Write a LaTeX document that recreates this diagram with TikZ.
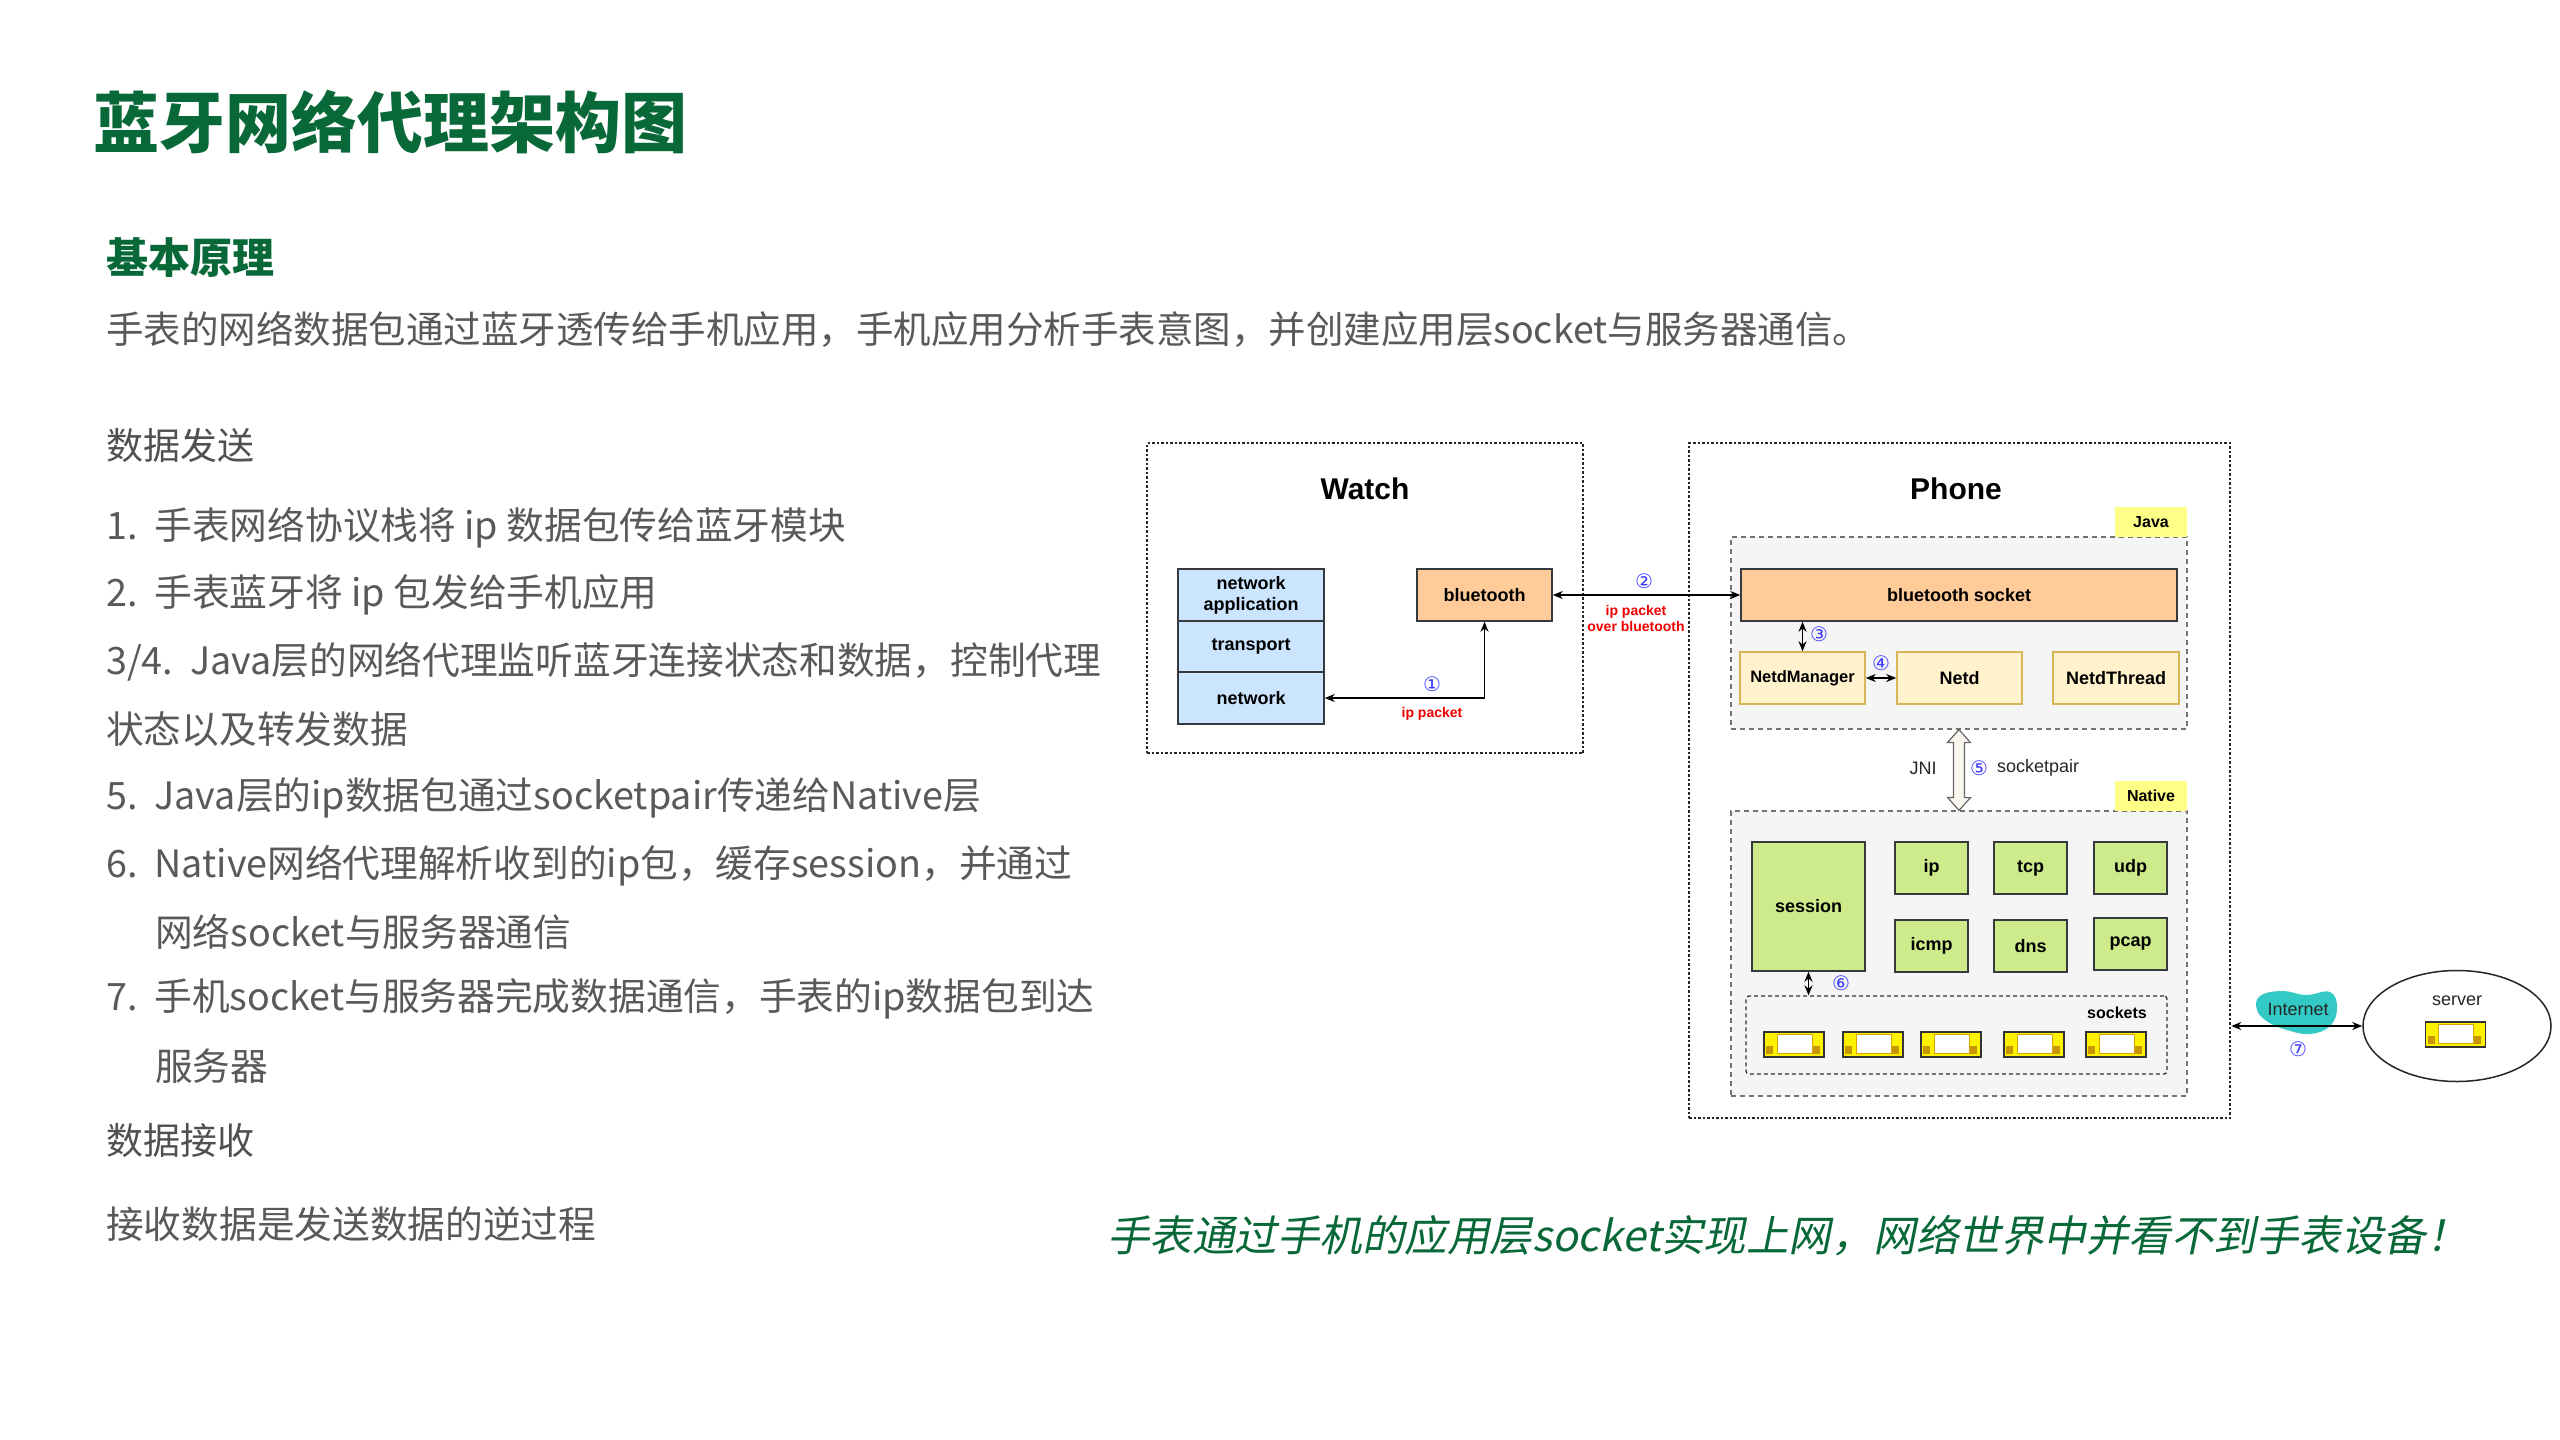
\documentclass[tikz,border=0pt]{standalone}
\usepackage{fontspec}
\setmainfont{Liberation Sans}
\newfontfamily\cjk{Noto Sans CJK SC}
\newfontfamily\cjkit[FakeSlant=0.2]{Noto Sans CJK SC}
\newfontfamily\circf{DejaVu Sans}
\usetikzlibrary{arrows.meta,shapes.geometric}
\definecolor{tgreen}{RGB}{8,104,56}
\definecolor{tgray}{RGB}{89,89,89}
\definecolor{bstroke}{HTML}{36393D}
\definecolor{cblue}{HTML}{CCE5FF}
\definecolor{corange}{HTML}{FFCC99}
\definecolor{cpale}{HTML}{FFF2CC}
\definecolor{cpalestroke}{HTML}{D6B656}
\definecolor{cgreen}{HTML}{CDEB8B}
\definecolor{carea}{HTML}{F5F5F5}
\definecolor{clabel}{HTML}{FFFF88}
\definecolor{cteal}{RGB}{51,201,196}
\definecolor{cnum}{RGB}{60,60,255}
\definecolor{cred}{RGB}{240,0,0}
\definecolor{cdarky}{HTML}{D9A300}
\definecolor{cbrown}{HTML}{C89600}
\definecolor{cjni}{HTML}{F9F7ED}
\newcommand{\nsp}{\hspace{0.45em}}
\tikzset{
  body/.style={anchor=west, inner sep=0, text=tgray, font=\cjk\fontsize{37.7}{42}\selectfont},
  head/.style={anchor=west, inner sep=0, text=tgray!90!black, font=\cjk\fontsize{37}{40}\selectfont},
  outerbox/.style={draw=black!85, line width=2.5pt, dash pattern=on 2.5pt off 2pt},
  areabox/.style={draw=black!55, fill=carea, line width=1.2pt, dash pattern=on 5pt off 4pt},
  lbl/.style={font=\bfseries\fontsize{18}{21}\selectfont, align=center, inner sep=0},
  stackbox/.style={lbl, draw=bstroke, fill=cblue, line width=1.5pt, minimum width=146pt},
  orbox/.style={lbl, draw=bstroke, fill=corange, line width=1.5pt, minimum height=52pt},
  palebox/.style={lbl, draw=cpalestroke, fill=cpale, line width=1.5pt, minimum height=52pt},
  grbox/.style={lbl, draw=bstroke, fill=cgreen, line width=1.5pt, minimum width=73pt, minimum height=52pt},
  layerlbl/.style={font=\bfseries\fontsize{16}{18}\selectfont, fill=clabel, inner sep=0, minimum width=72pt, minimum height=30pt},
  num/.style={font=\circf\fontsize{20}{20}\selectfont, text=cnum, inner sep=0},
  redlbl/.style={font=\bfseries\fontsize{14}{16}\selectfont, text=cred, inner sep=0, align=center},
  plain/.style={font=\fontsize{18}{20}\selectfont, text=black!85, inner sep=0},
  conn/.style={line width=1.5pt, {Stealth[length=10pt,width=8pt]}-{Stealth[length=10pt,width=8pt]}},
  sockicon/.pic={
    \draw[fill=yellow, draw=black!80, line width=1.3pt] (-30,-12.5) rectangle (30,12.5);
    \draw[fill=white, draw=cdarky, line width=1pt] (-17,-10) rectangle (18,9.2);
    \fill[cbrown] (-28,1.8) rectangle (-21,9.5);
    \fill[cbrown] (18.8,1.8) rectangle (25.8,9.5);
  }
}
\begin{document}
\begin{tikzpicture}[x=1pt,y=-1pt]
\useasboundingbox (0,0) rectangle (2560,1440);
\fill[white] (0,0) rectangle (2560,1440);

% ---------- left text ----------
\node[anchor=west, inner sep=0, text=tgreen, font=\cjk\bfseries\fontsize{66}{70}\selectfont] (title) at (93,122) {蓝牙网络代理架构图};
\node[anchor=west, inner sep=0, text=tgreen, font=\cjk\bfseries\fontsize{42}{46}\selectfont] (h1) at (106,258) {基本原理};
\node[body, font=\cjk\fontsize{37.5}{42}\selectfont] (sub) at (106,330) {手表的网络数据包通过蓝牙透传给手机应用，手机应用分析手表意图，并创建应用层socket与服务器通信。};
\node[head] (h2) at (106,445) {数据发送};
\node[body] (l1) at (106,528) {1.\nsp 手表网络协议栈将 ip 数据包传给蓝牙模块};
\node[body] (l2) at (106,595) {2.\nsp 手表蓝牙将 ip 包发给手机应用};
\node[body] (l3) at (106,662) {3/4.\nsp Java层的网络代理监听蓝牙连接状态和数据，控制代理};
\node[body] (l3b) at (106,729) {状态以及转发数据};
\node[body] (l5) at (106,798) {5.\nsp Java层的ip数据包通过socketpair传递给Native层};
\node[body] (l6) at (106,866) {6.\nsp Native网络代理解析收到的ip包，缓存session，并通过};
\node[body] (l6b) at (155,932) {网络socket与服务器通信};
\node[body] (l7) at (106,999) {7.\nsp 手机socket与服务器完成数据通信，手表的ip数据包到达};
\node[body] (l7b) at (155,1066) {服务器};
\node[head] (h3) at (106,1140) {数据接收};
\node[body] (rx) at (106,1224) {接收数据是发送数据的逆过程};
\node[anchor=west, inner sep=0, text=tgreen, font=\cjkit\fontsize{42.5}{46}\selectfont] (note) at (1107,1236) {手表通过手机的应用层socket实现上网，网络世界中并看不到手表设备！};

% ---------- containers ----------
\node[outerbox, minimum width=436pt, minimum height=310pt, inner sep=0] (watch) at (1365,598) {};
\node[outerbox, minimum width=541pt, minimum height=675pt, inner sep=0] (phone) at (1959.5,780.5) {};
\node[font=\bfseries\fontsize{30}{32}\selectfont, inner sep=0] (watcht) at (1365,489) {Watch};
\node[font=\bfseries\fontsize{30}{32}\selectfont, inner sep=0] (phonet) at (1956,489) {Phone};

\node[areabox, minimum width=456pt, minimum height=192pt, inner sep=0] (java) at (1959,633) {};
\node[layerlbl] (javal) at (2151,522) {Java};
\node[areabox, minimum width=456pt, minimum height=285pt, inner sep=0] (native) at (1959,953.5) {};
\node[layerlbl] (nativel) at (2151,796) {Native};

% ---------- watch ----------
\node[stackbox, minimum height=52pt] (napp) at (1251,595) {network\\application};
\node[stackbox, minimum height=51pt] (trans) at (1251,646.5) {transport};
\node[stackbox, minimum height=52pt] (net) at (1251,698) {network};
\node[orbox, minimum width=135pt] (bt) at (1484.5,595) {bluetooth};

% ---------- phone java ----------
\node[orbox, minimum width=436pt] (btsock) at (1959,595) {bluetooth socket};
\node[palebox, minimum width=125pt, font=\bfseries\fontsize{16.5}{18}\selectfont] (nm) at (1802.5,678) {NetdManager};
\node[palebox, minimum width=125pt] (netd) at (1959.5,678) {Netd};
\node[palebox, minimum width=126pt] (nthread) at (2116,678) {NetdThread};

% ---------- phone native ----------
\node[grbox, minimum width=113pt, minimum height=129pt] (session) at (1808.5,906.5) {session};
\node[grbox] (ip) at (1931.5,868) {ip};
\node[grbox] (tcp) at (2030.5,868) {tcp};
\node[grbox] (udp) at (2130.5,868) {udp};
\node[grbox] (icmp) at (1931.5,946) {icmp};
\node[grbox] (dns) at (2030.5,946) {dns};
\node[grbox] (pcap) at (2130.5,944) {pcap};
\node[draw=black!80, line width=1.3pt, dash pattern=on 4pt off 3pt, rounded corners=3pt, minimum width=421pt, minimum height=78pt, inner sep=0] (sockets) at (1956.5,1035) {};
\node[font=\bfseries\fontsize{16}{18}\selectfont, inner sep=0] (socketst) at (2117,1013) {sockets};
\foreach \xx/\nm in {1794/s1,1873/s2,1951/s3,2034/s4,2116/s5}{
  \pic (\nm) at (\xx,1044.5) {sockicon};
}

% ---------- JNI block arrow ----------
\coordinate (jtop) at (java.south);
\coordinate (jbot) at (native.north);
\draw[fill=cjni, draw=black!60, line width=1.2pt, line join=miter]
  (jtop) -- ++(11.5,13) -- ++(-6,0) -- ++(0,55) -- ++(6,0) -- (jbot) -- ++(-11.5,-13) -- ++(6,0) -- ++(0,-55) -- ++(-6,0) -- cycle;
\node[plain] (jni) at (1923,768) {JNI};
\node[plain] (sp) at (2038,768) {socketpair};

% ---------- server ----------
\node[draw=black!85, line width=1.5pt, ellipse, minimum width=188pt, minimum height=111pt, inner sep=0] (server) at (2457,1026) {};
\node[plain, font=\fontsize{18}{20}\selectfont] (servert) at (2457,1001) {server};
\pic (srvicon) at (2455.5,1034.5) {sockicon};
\fill[cteal] plot[smooth cycle, tension=0.7] coordinates {(2260,996) (2282,991) (2306,995) (2330,992) (2337,1008) (2330,1026) (2310,1034) (2287,1030) (2268,1022) (2257,1010)};
\node[plain] (inet) at (2298,1009) {Internet};

% ---------- connectors ----------
\draw[conn] (net.east) -| (bt.south);
\draw[conn] (bt.east) -- (btsock.west);
\draw[conn] (btsock.south -| nm.north) -- (nm.north);
\draw[conn] (nm.east) -- (netd.west);
\draw[conn] (session.south) -- (session.south |- sockets.north);
\coordinate (pr) at (phone.east |- server.west);
\draw[conn] (pr) -- (server.west);

% ---------- labels on connectors ----------
\node[num] (n1) at (1432,684) {①};
\node[redlbl] (r1) at (1432,714) {ip packet};
\node[num] (n2) at (1644,581) {②};
\node[redlbl] (r2) at (1636,618) {ip packet\\over bluetooth};
\node[num] (n3) at (1819,634) {③};
\node[num] (n4) at (1881,663) {④};
\node[num] (n5) at (1979,768) {⑤};
\node[num] (n6) at (1841,983) {⑥};
\node[num] (n7) at (2298,1049) {⑦};
\end{tikzpicture}
\end{document}
